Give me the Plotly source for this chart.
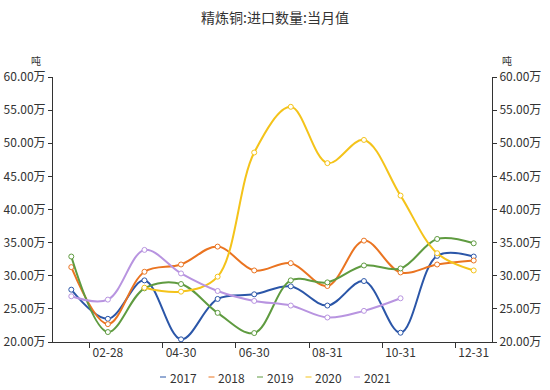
import plotly.graph_objects as go

months = ["01-31", "02-28", "03-31", "04-30", "05-31", "06-30",
          "07-31", "08-31", "09-30", "10-31", "11-30", "12-31"]
x_labels = ["02-28", "04-30", "06-30", "08-31", "10-31", "12-31"]

# values in 万吨
s2017 = [27.9, 23.5, 29.3, 20.4, 26.5, 27.2, 28.4, 25.5, 29.2, 21.4, 33.0, 32.9]
s2018 = [31.3, 22.7, 30.6, 31.7, 34.4, 30.8, 31.9, 28.45, 35.3, 30.5, 31.7, 32.3]
s2019 = [32.9, 21.5, 28.1, 28.75, 24.4, 21.35, 29.3, 29.0, 31.55, 31.1, 35.55, 34.9]
s2020 = [None, None, 28.2, 27.6, 29.86, 48.6, 55.5, 47.0, 50.5, 42.1, 33.4, 30.8]
s2021 = [26.9, 26.4, 33.9, 30.35, 27.7, 26.2, 25.5, 23.7, 24.7, 26.6, None, None]

series = [("2017", s2017, "#2b56a8"),
          ("2018", s2018, "#ea7421"),
          ("2019", s2019, "#5f9b40"),
          ("2020", s2020, "#f4c31a"),
          ("2021", s2021, "#b894e0")]

y_ticks = [20, 25, 30, 35, 40, 45, 50, 55, 60]
y_ticktext = ["20.00万", "25.00万", "30.00万", "35.00万", "40.00万",
              "45.00万", "50.00万", "55.00万", "60.00万"]

W, H = 550, 390
# plot area in pixels: x 53..492, y 77..342
PL, PR, PT, PB = 53, 492, 77, 342
ML, MT, MR, MB = PL, PT, W - PR, H - PB
PW, PH = PR - PL, PB - PT


def px_x(p):
    return (p - PL) / PW


def px_y(p):
    return (PB - p) / PH


xi = list(range(len(months)))
fig = go.Figure()
for name, vals, col in series:
    fig.add_trace(go.Scatter(
        x=xi, y=vals, name=name, mode="lines+markers",
        line=dict(color=col, width=2, shape="spline", smoothing=1.0),
        marker=dict(size=5, color="white", line=dict(color=col, width=1)),
        connectgaps=False, showlegend=False))

# invisible trace to anchor right axis
fig.add_trace(go.Scatter(x=xi, y=s2017, yaxis="y2", mode="lines",
                         line=dict(width=0, color="rgba(0,0,0,0)"),
                         hoverinfo="skip", showlegend=False))

# manual legend (short line keys + text)
shapes = []
annotations = []
leg_y = 377
leg_start = 160
leg_step = 48.5
for k, (name, vals, col) in enumerate(series):
    x0 = leg_start + k * leg_step
    shapes.append(dict(type="line", xref="paper", yref="paper",
                       x0=px_x(x0), x1=px_x(x0 + 6),
                       y0=px_y(leg_y), y1=px_y(leg_y),
                       line=dict(color=col, width=1)))
    annotations.append(dict(text=name, xref="paper", yref="paper",
                            x=px_x(x0 + 7.5), y=px_y(leg_y),
                            xanchor="left", yanchor="middle", showarrow=False,
                            font=dict(size=12, color="#333")))

annotations += [
    dict(text="吨", xref="paper", yref="paper", x=px_x(36), y=px_y(60),
         xanchor="center", yanchor="middle", showarrow=False,
         font=dict(size=10, color="#333")),
    dict(text="吨", xref="paper", yref="paper", x=px_x(507), y=px_y(60),
         xanchor="center", yanchor="middle", showarrow=False,
         font=dict(size=10, color="#333")),
]

font_family = "Noto Sans CJK SC, Microsoft YaHei, sans-serif"
axis_common = dict(showgrid=False, zeroline=False, showline=True,
                   linecolor="#333", linewidth=1, automargin=False,
                   tickfont=dict(size=12, color="#333"))
fig.update_layout(
    width=W, height=H,
    margin=dict(l=ML, r=MR, t=MT, b=MB, pad=0),
    paper_bgcolor="white", plot_bgcolor="white",
    font=dict(family=font_family, size=12, color="#333"),
    showlegend=False,
    title=dict(text="精炼铜:进口数量:当月值", x=0.5, xanchor="center",
               y=1 - 18 / H, yanchor="middle",
               font=dict(size=14, color="#333")),
    xaxis=dict(range=[-0.5, 11.5], tickmode="array",
               tickvals=[months.index(l) for l in x_labels], ticktext=x_labels,
               ticks="",
               minor=dict(tickmode="array",
                          tickvals=[months.index(l) - 0.5 for l in x_labels],
                          ticks="outside", ticklen=5, tickcolor="#333",
                          showgrid=False),
               **axis_common),
    yaxis=dict(range=[20, 60], tickmode="array", tickvals=y_ticks,
               ticktext=y_ticktext, ticks="outside", ticklen=4,
               tickcolor="#333", **axis_common),
    yaxis2=dict(range=[20, 60], tickmode="array", tickvals=y_ticks,
                ticktext=y_ticktext, ticks="outside", ticklen=4,
                tickcolor="#333", overlaying="y", side="right",
                **axis_common),
    shapes=shapes,
    annotations=annotations,
)

# remove the browser's default 8px body margin so the figure fills the window
fig.write_html("out.html",
               config={"displayModeBar": False},
               post_script="document.body.style.margin='0';"
                           "document.body.style.overflow='hidden';")
